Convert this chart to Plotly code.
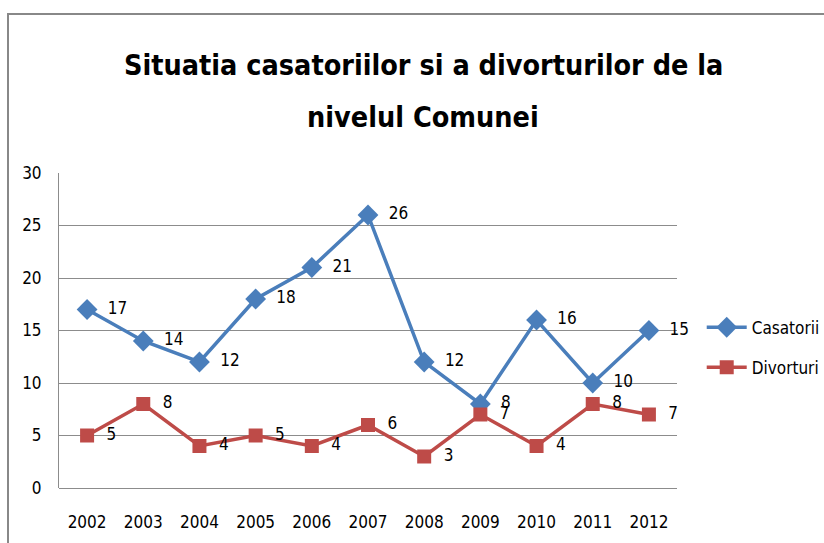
import plotly.graph_objects as go

years = ["2002", "2003", "2004", "2005", "2006", "2007", "2008", "2009", "2010", "2011", "2012"]
casatorii = [17, 14, 12, 18, 21, 26, 12, 8, 16, 10, 15]
divorturi = [5, 8, 4, 5, 4, 6, 3, 7, 4, 8, 7]
y_ticks = [0, 5, 10, 15, 20, 25, 30]
title_lines = ["Situatia casatoriilor si a divorturilor de la", "nivelul Comunei"]

FONT = "DejaVu Sans Condensed"
PAD = "\u00a0\u00a0"

fig = go.Figure()
fig.add_trace(go.Scatter(
    x=years, y=casatorii, name="Casatorii", legendgroup="a", mode="lines+markers+text",
    line=dict(color="#4A7EBB", width=3.5),
    marker=dict(symbol="diamond", size=16, color="#4A7EBB"),
    text=[PAD + str(v) for v in casatorii], textposition="middle right",
    textfont=dict(family=FONT, size=17, color="#000000"),
    cliponaxis=False,
))
fig.add_trace(go.Scatter(
    x=years, y=divorturi, name="Divorturi", legendgroup="b", mode="lines+markers+text",
    line=dict(color="#BE4B48", width=3.5),
    marker=dict(symbol="square", size=14, color="#BE4B48"),
    text=[PAD + str(v) for v in divorturi], textposition="middle right",
    textfont=dict(family=FONT, size=17, color="#000000"),
    cliponaxis=False,
))

fig.update_layout(
    width=824, height=543,
    margin=dict(l=59, r=147, t=173, b=55, autoexpand=False),
    paper_bgcolor="white", plot_bgcolor="white",
    font=dict(family=FONT, size=17, color="#000000"),
    xaxis=dict(
        type="category", range=[-0.5, 10.5], showgrid=False,
        showline=False, ticks="", tickfont=dict(size=17),
        ticklabelstandoff=22, automargin=False,
    ),
    yaxis=dict(
        range=[0, 30], tickvals=y_ticks, showgrid=True, gridcolor="#8C8C8C",
        gridwidth=1, showline=True, linecolor="#8C8C8C", linewidth=1,
        zeroline=True, zerolinecolor="#8C8C8C", zerolinewidth=1,
        ticks="", tickfont=dict(size=17), ticklabelstandoff=13, automargin=False,
    ),
    legend=dict(
        x=1.040, y=0.566, xanchor="left", yanchor="top",
        font=dict(family=FONT, size=17), tracegroupgap=15,
        itemwidth=40, bgcolor="rgba(0,0,0,0)",
    ),
    showlegend=True,
)
# title as two annotations to reproduce the wide line spacing
for line, py in zip(title_lines, [65, 118]):
    fig.add_annotation(
        text="<b>" + line + "</b>", xref="paper", yref="paper",
        x=(423 - 59) / 618, y=(488 - py) / 315, xanchor="center", yanchor="middle",
        showarrow=False, font=dict(family=FONT, size=28.5, color="#000000"),
    )
fig.add_shape(type="rect", xref="paper", yref="paper",
              x0=(8 - 59) / 618, x1=1.6, y0=-0.4, y1=(488 - 14) / 315,
              line=dict(color="#888888", width=2), fillcolor="rgba(0,0,0,0)", layer="below")

fig.write_html("out.html", config={"displayModeBar": False})
with open("out.html", encoding="utf-8") as f:
    html = f.read()
html = html.replace("<head>", "<head><style>body{margin:0;}</style>", 1)
with open("out.html", "w", encoding="utf-8") as f:
    f.write(html)
